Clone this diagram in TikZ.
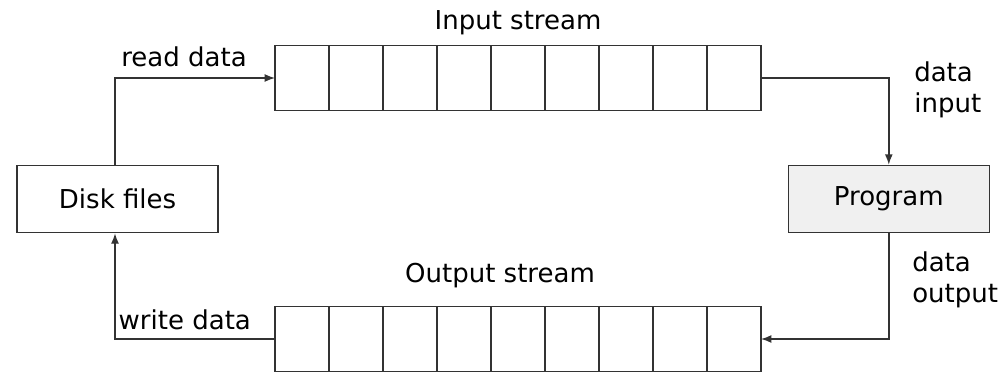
\documentclass[tikz,border=0pt]{standalone}
\usepackage{fontspec}
\setmainfont{DejaVu Sans}
\usetikzlibrary{positioning,arrows.meta}

\tikzset{
  box/.style={draw=black!80, line width=1pt, minimum width=5.03cm, minimum height=1.68cm},
  cell/.style={draw=black!80, line width=1pt, minimum width=1.35cm, minimum height=1.62cm, outer sep=0pt},
  flow/.style={draw=black!80, line width=1pt, -{Latex[length=2.6mm,width=2mm]}},
  lbl/.style={font=\fontsize{18.5}{22}\selectfont, inner sep=0pt}
}

\begin{document}
\begin{tikzpicture}[every node/.style={font=\fontsize{18.5}{22}\selectfont}]
        \useasboundingbox (0,0) rectangle (25.1,9.575);
        % Files and program
        \node[box] (disk) at (2.94,4.6) {Disk files};
        \node[box, fill=gray!12] (prog) at (22.22,4.6) {Program};

        % Input stream and output stream buffers
        \foreach \i in {1,...,9} {
            \node[cell] (in\i) at ({6.875+1.35*(\i-0.5)},7.625) {};
            \node[cell] (out\i) at ({6.875+1.35*(\i-0.5)},1.1) {};
        }
        \node[lbl, above=0.25cm of in5.north] (instream) {Input stream};
        \node[lbl, above=0.45cm of out5.north, xshift=-0.45cm] (outstream) {Output stream};

        % Connectors
        \draw[flow] (disk.north -| 2.875,0) |- (in1.west);
        \draw[flow] (in9.east) -| (prog.north);
        \draw[flow] (prog.south) |- (out9.east);
        \draw[flow] (out1.west) -| (disk.south -| 2.875,0);

        % Labels along the connectors
        \node[lbl] (readlbl) at (4.6,8.15) {read data};
        \node[lbl] (writelbl) at (4.62,1.58) {write data};
        \node[lbl, align=left, anchor=west] (inlbl) at (22.85,7.33) {data\\input};
        \node[lbl, align=left, anchor=west] (outlbl) at (22.8,2.58) {data\\output};
    \end{tikzpicture}
\end{document}
